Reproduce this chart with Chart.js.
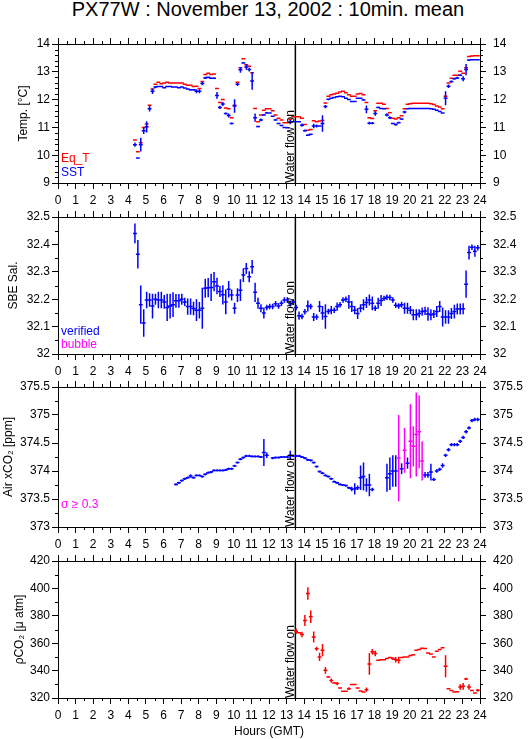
<!DOCTYPE html>
<html><head><meta charset="utf-8">
<script src="https://cdn.jsdelivr.net/npm/chart.js@4"></script>
<style>
html,body{margin:0;padding:0;background:#fff;}
body{width:529px;height:739px;position:relative;overflow:hidden;font-family:"Liberation Sans",Arial,sans-serif;}
#title{position:absolute;left:0;width:536px;top:-1px;text-align:center;font-size:20px;line-height:20px;color:#000;white-space:nowrap;}
canvas{position:absolute;left:0;}
</style></head><body>
<div id="title">PX77W : November 13, 2002 : 10min. mean</div>
<canvas id="c1" width="529" height="199" style="top:24px"></canvas>
<canvas id="c2" width="529" height="197" style="top:197px"></canvas>
<canvas id="c3" width="529" height="200" style="top:367px"></canvas>
<canvas id="c4" width="529" height="198" style="top:541px"></canvas>
<script>
// ---------------- data ----------------
const hourTicks = [0,1,2,3,4,5,6,7,8,9,10,11,12,13,14,15,16,17,18,19,20,21,22,23,24];
const tempTicks = [9,10,11,12,13,14];
const salTicks  = [32,32.1,32.2,32.3,32.4,32.5];
const xco2Ticks = [373,373.5,374,374.5,375,375.5];
const pco2Ticks = [320,340,360,380,400,420];

const binMinutes = 10;          // 10-minute means
const waterFlowOnHour = 13.5;

// Temperature / salinity: first bin 04:20 GMT
const tempStartHour = 4 + 20/60;
const eqT = [
  10.55,10.12,10.45,11.00,
  11.12,11.80,12.38,12.55,12.62,12.57,
  12.60,12.62,12.60,12.60,12.60,12.60,
  12.60,12.55,12.52,12.52,12.47,12.48,
  12.40,12.65,12.90,12.95,12.90,12.92,
  12.40,11.90,12.00,11.70,11.67,11.35,
  11.80,12.62,13.15,13.47,13.25,13.20,
  12.97,11.68,11.20,11.45,11.62,11.67,
  11.67,11.60,11.45,11.33,11.27,11.17,
  11.17,11.28,11.38,11.38,11.38,11.33,
  11.10,10.90,10.92,11.24,11.20,11.23,
  11.25,11.88,12.12,12.17,12.20,12.23,
  12.27,12.30,12.25,12.17,12.12,12.12,
  12.20,12.22,12.17,11.90,11.35,11.32,
  11.60,11.87,11.87,11.83,11.68,11.53,
  11.33,11.30,11.35,11.42,11.67,11.83,
  11.85,11.87,11.87,11.87,11.87,11.87,
  11.87,11.85,11.82,11.77,11.73,11.67,
  12.12,12.60,12.77,12.88,12.88,13.02,
  12.95,13.15,13.55,13.57,13.58,13.58
];
const sst = [
  10.38,9.90,10.38,10.88,
  11.02,11.67,12.30,12.45,12.47,12.47,
  12.43,12.47,12.47,12.45,12.45,12.43,
  12.45,12.42,12.38,12.35,12.35,12.30,
  12.30,12.58,12.78,12.80,12.77,12.77,
  12.15,11.72,11.84,11.50,11.43,11.14,
  11.77,12.55,13.07,13.32,13.17,13.08,
  12.67,11.35,11.03,11.27,11.45,11.52,
  11.52,11.40,11.27,11.14,11.07,11.00,
  10.99,11.19,11.20,11.20,11.20,11.08,
  10.88,10.72,10.75,11.05,11.05,11.05,
  11.14,11.75,12.01,12.05,12.08,12.10,
  12.12,12.10,12.05,12.00,11.93,11.93,
  12.05,12.05,11.99,11.65,11.15,11.15,
  11.50,11.72,11.68,11.67,11.45,11.35,
  11.14,11.10,11.17,11.30,11.55,11.67,
  11.68,11.68,11.68,11.68,11.68,11.68,
  11.68,11.67,11.65,11.62,11.57,11.52,
  12.05,12.48,12.65,12.75,12.78,12.88,
  12.75,13.08,13.42,13.43,13.43,13.43
];
const sstSigma = [
  0.08,0.03,0.25,0.12,
  0.20,0.10,0.10,0.04,0.02,0.02,
  0.02,0.02,0.02,0.02,0.02,0.02,
  0.02,0.02,0.02,0.03,0.03,0.07,
  0.07,0.06,0.04,0.03,0.03,0.03,
  0.12,0.06,0.07,0.04,0.07,0.04,
  0.24,0.06,0.10,0.03,0.10,0.07,
  0.32,0.15,0.03,0.05,0.03,0.03,
  0.02,0.02,0.03,0.03,0.02,0.02,
  0.02,0.08,0.02,0.02,0.02,0.06,
  0.04,0.03,0.03,0.08,0.05,0.03,
  0.30,0.06,0.03,0.02,0.02,0.02,
  0.02,0.02,0.02,0.02,0.02,0.02,
  0.02,0.02,0.03,0.14,0.05,0.04,
  0.08,0.03,0.03,0.02,0.06,0.05,
  0.03,0.04,0.03,0.03,0.05,0.03,
  0.02,0.02,0.02,0.02,0.02,0.02,
  0.02,0.02,0.02,0.02,0.02,0.02,
  0.25,0.06,0.04,0.04,0.04,0.03,
  0.09,0.20,0.03,0.02,0.02,0.02
];

const salStartHour = 4 + 20/60;
const salinity = [
  32.440,32.364,32.180,32.113,
  32.197,32.197,32.175,32.200,32.197,32.197,
  32.190,32.170,32.175,32.180,32.194,32.194,
  32.200,32.190,32.173,32.173,32.166,32.160,
  32.160,32.167,32.240,32.242,32.243,32.264,
  32.248,32.228,32.216,32.190,32.236,32.215,
  32.167,32.215,32.233,32.288,32.312,32.282,
  32.318,32.225,32.185,32.167,32.150,32.170,
  32.173,32.173,32.183,32.175,32.185,32.197,
  32.197,32.183,32.190,32.170,32.140,32.137,
  32.154,32.175,32.173,32.135,32.135,32.173,
  32.150,32.137,32.155,32.160,32.160,32.173,
  32.180,32.197,32.200,32.190,32.173,32.160,
  32.148,32.167,32.180,32.188,32.197,32.185,
  32.167,32.185,32.195,32.203,32.207,32.206,
  32.197,32.178,32.175,32.180,32.167,32.167,
  32.160,32.143,32.143,32.148,32.155,32.157,
  32.146,32.143,32.146,32.155,32.173,32.135,
  32.135,32.135,32.148,32.155,32.164,32.164,
  32.165,32.255,32.370,32.390,32.375,32.388
];
const salSigma = [
  0.036,0.052,0.070,0.050,
  0.030,0.025,0.045,0.020,0.030,0.030,
  0.025,0.050,0.045,0.045,0.025,0.025,
  0.020,0.015,0.030,0.030,0.025,0.040,
  0.030,0.075,0.035,0.035,0.050,0.035,
  0.030,0.020,0.035,0.045,0.030,0.020,
  0.020,0.025,0.040,0.025,0.020,0.020,
  0.025,0.035,0.020,0.015,0.020,0.010,
  0.010,0.010,0.010,0.010,0.010,0.010,
  0.010,0.010,0.010,0.010,0.015,0.010,
  0.010,0.020,0.010,0.015,0.010,0.020,
  0.025,0.045,0.010,0.015,0.010,0.015,
  0.010,0.010,0.010,0.025,0.020,0.015,
  0.020,0.015,0.020,0.020,0.020,0.025,
  0.010,0.020,0.020,0.010,0.010,0.010,
  0.010,0.010,0.010,0.010,0.020,0.020,
  0.015,0.020,0.020,0.015,0.015,0.015,
  0.025,0.020,0.015,0.020,0.020,0.035,
  0.025,0.025,0.020,0.025,0.020,0.020,
  0.020,0.050,0.025,0.010,0.020,0.010
];

// Air xCO2: first bin 06:40 GMT
const xco2StartHour = 6 + 40/60;
const xco2 = [
  373.76,373.79,
  373.83,373.86,373.88,373.91,373.88,373.92,
  373.92,373.90,373.94,373.97,373.98,374.01,
  374.01,374.01,374.01,374.02,374.04,374.04,
  374.09,374.15,374.21,374.24,374.27,374.27,
  374.26,374.26,374.26,374.25,374.33,374.28,
  null,374.23,374.24,374.24,374.25,374.25,
  374.25,374.28,374.27,374.27,374.27,374.25,
  374.23,374.20,374.19,374.15,374.08,373.99,
  373.96,373.92,373.90,373.86,373.81,373.79,
  373.76,373.75,373.74,373.70,373.68,373.68,
  373.70,373.88,373.90,373.75,373.75,373.67,
  null,null,null,null,373.88,373.95,
  374.00,374.00,374.23,374.04,374.37,374.14,
  374.53,374.44,374.65,374.70,374.18,373.93,
  373.93,373.98,373.85,374.00,374.03,374.10,
  374.28,374.38,374.47,374.47,374.47,374.53,
  374.60,374.70,374.77,374.90,374.92,374.92
];
const xco2Sigma = [
  0.02,0.02,
  0.02,0.02,0.02,0.03,0.02,0.02,
  0.02,0.02,0.02,0.02,0.02,0.02,
  0.02,0.02,0.02,0.02,0.02,0.02,
  0.02,0.02,0.02,0.02,0.02,0.02,
  0.02,0.02,0.02,0.02,0.24,0.05,
  0,0.02,0.02,0.02,0.02,0.02,
  0.02,0.08,0.02,0.02,0.02,0.02,
  0.02,0.02,0.02,0.02,0.02,0.02,
  0.02,0.02,0.02,0.02,0.02,0.02,
  0.02,0.02,0.02,0.02,0.04,0.10,
  0.04,0.22,0.25,0.12,0.20,0.03,
  0,0,0,0,0.25,0.29,
  0.28,0.28,0.77,0.10,0.40,0.10,
  0.66,0.36,0.75,0.65,0.35,0.05,
  0.05,0.15,0.03,0.03,0.03,0.04,
  0.03,0.03,0.03,0.03,0.03,0.03,
  0.03,0.03,0.03,0.03,0.03,0.03
];
const sigmaFlag = 0.3;

// Seawater pCO2: first bin 13:30 GMT
const pco2StartHour = 13.5;
const pco2 = [
  368.8,367.6,366.3,
  376.6,396.3,379.3,364.6,355.9,350.0,
  354.9,340.2,335.4,332.7,331.0,330.5,
  327.3,324.9,324.9,326.8,329.8,329.8,
  327.3,325.1,324.4,326.1,344.9,353.7,
  352.4,347.6,348.0,348.0,348.8,349.5,
  348.8,348.0,347.6,349.5,350.0,350.0,
  351.0,351.5,354.9,355.4,356.3,356.1,
  352.9,352.2,350.0,354.1,355.4,356.6,
  343.2,326.8,325.4,324.4,324.6,328.0,
  328.5,333.9,328.0,325.4,323.7,325.6
];
const pco2Sigma = [
  2,0.6,2,
  4,4.5,4.5,4,1.5,3,
  4.5,2.5,0.6,1.5,0.6,1.2,
  0.5,0.4,0.4,1,0.5,0.5,
  0.5,0.4,0.4,1.5,8,2,
  2,0.5,0.5,0.5,0.5,0.5,
  1,2,2.5,0.5,0.5,0.5,
  0.5,0.5,0.5,0.5,0.5,0.5,
  0.5,0.5,0.5,0.5,0.5,0.5,
  8,0.5,0.5,0.5,0.5,2,
  2.5,0.8,2,0.5,0.5,1
];

// ---------------- styling ----------------
const BLUE = '#0000ff', RED = '#ff0000', MAGENTA = '#ff00ff';
const FONT = '"Liberation Sans", Arial, sans-serif';
const halfBinHours = 0.11;
Chart.defaults.font.family = FONT;
Chart.defaults.color = '#000';

function crossPath(startHour, values, sigma, keep) {
  const pts = [];
  values.forEach((v, i) => {
    if (v === null || (keep && !keep(i))) return;
    const t = startHour + (i + 0.25) * binMinutes / 60;
    const s = sigma ? (sigma[i] || 0) : 0;
    pts.push({x: t - halfBinHours, y: v}, {x: t + halfBinHours, y: v}, {x: t, y: null});
    if (s > 0) pts.push({x: t, y: v - s}, {x: t, y: v + s}, {x: t, y: null});
  });
  return pts;
}
function markSet(data, color, order, width) {
  return {data, borderColor: color, backgroundColor: color, borderWidth: width || 1.5,
    pointRadius: 0, pointHoverRadius: 0, spanGaps: false, tension: 0, borderCapStyle: 'butt',
    xAxisID: 'x', yAxisID: 'y', order};
}
function flowLine(ticks) {
  return {data: [{x: waterFlowOnHour, y: ticks[0]}, {x: waterFlowOnHour, y: ticks[ticks.length - 1]}],
    borderColor: '#000', borderWidth: 1.5, pointRadius: 0, xAxisID: 'x', yAxisID: 'y', order: 5};
}
function minorValues(ticks, n) {
  const out = [];
  for (let i = 0; i < ticks.length - 1; i++)
    for (let j = 1; j < n; j++) out.push(ticks[i] + (ticks[i + 1] - ticks[i]) * j / n);
  return out;
}
const minorHours = minorValues(hourTicks, 2);

const decorPlugin = {
  id: 'panelDecor',
  afterDraw(chart, args, opts) {
    const {ctx, chartArea: a} = chart;
    const xs = chart.scales.x, ys = chart.scales.y;
    ctx.save();
    ctx.strokeStyle = '#000'; ctx.lineWidth = 1;
    ctx.beginPath();
    for (const v of minorHours) {
      const px = Math.round(xs.getPixelForValue(v)) + 0.5;
      ctx.moveTo(px, a.top); ctx.lineTo(px, a.top - 3);
      ctx.moveTo(px, a.bottom); ctx.lineTo(px, a.bottom + 3);
    }
    for (const v of opts.minorY) {
      const py = Math.round(ys.getPixelForValue(v)) + 0.5;
      ctx.moveTo(a.left, py); ctx.lineTo(a.left - 3, py);
      ctx.moveTo(a.right, py); ctx.lineTo(a.right + 3, py);
    }
    ctx.stroke();
    ctx.font = '12px ' + FONT;
    ctx.textBaseline = 'middle'; ctx.textAlign = 'left';
    for (const l of opts.labels) {
      ctx.fillStyle = l.color;
      ctx.fillText(l.text, a.left + 3, a.bottom - l.up);
    }
    ctx.fillStyle = '#000';
    ctx.translate(xs.getPixelForValue(waterFlowOnHour) - 1, a.bottom);
    ctx.rotate(-Math.PI / 2);
    ctx.textBaseline = 'alphabetic';
    ctx.fillText('Water flow on', 0, 0);
    ctx.restore();
  }
};

function axisCommon() {
  return {
    grid: {drawOnChartArea: false, drawTicks: true, tickLength: 6, color: '#000', tickColor: '#000', lineWidth: 1},
    border: {display: true, color: '#000', width: 1}
  };
}
function makePanel(id, cfg) {
  const setTicks = arr => s => { s.ticks = arr.map(v => ({value: v})); };
  const fmt = v => String(v);
  const tickFont = {family: FONT, size: 12};
  return new Chart(document.getElementById(id), {
    type: 'line',
    data: {datasets: cfg.datasets},
    options: {
      responsive: false, animation: false, devicePixelRatio: 1, events: [],
      layout: {padding: 0},
      plugins: {legend: {display: false}, tooltip: {enabled: false},
        panelDecor: {minorY: cfg.minorY, labels: cfg.labels}},
      scales: {
        x: Object.assign(axisCommon(), {type: 'linear', position: 'bottom', min: 0, max: 24,
          afterBuildTicks: setTicks(hourTicks), afterFit: s => { s.height = cfg.bottomH; },
          ticks: {font: tickFont, color: '#000', padding: 4, maxRotation: 0, autoSkip: false, callback: fmt},
          title: cfg.xTitle ? {display: true, text: cfg.xTitle, font: {family: FONT, size: 12}, color: '#000', padding: {top: 0, bottom: 0}} : {display: false}}),
        xTop: Object.assign(axisCommon(), {type: 'linear', position: 'top', min: 0, max: 24,
          afterBuildTicks: setTicks(hourTicks), afterFit: s => { s.height = 20; },
          ticks: {display: false}}),
        y: Object.assign(axisCommon(), {type: 'linear', position: 'left', min: cfg.yTicks[0], max: cfg.yTicks[cfg.yTicks.length - 1],
          afterBuildTicks: setTicks(cfg.yTicks), afterFit: s => { s.width = 58; },
          ticks: {font: tickFont, color: '#000', padding: 2, autoSkip: false, callback: fmt},
          title: {display: true, text: cfg.yTitle, font: {family: FONT, size: 12}, color: '#000', padding: {top: cfg.titlePad, bottom: 0}}}),
        yRight: Object.assign(axisCommon(), {type: 'linear', position: 'right', min: cfg.yTicks[0], max: cfg.yTicks[cfg.yTicks.length - 1],
          afterBuildTicks: setTicks(cfg.yTicks), afterFit: s => { s.width = 49; },
          ticks: {font: tickFont, color: '#000', padding: 7, autoSkip: false, callback: fmt}})
      }
    },
    plugins: [decorPlugin]
  });
}

makePanel('c1', {
  yTicks: tempTicks, minorY: minorValues(tempTicks, 5), yTitle: 'Temp. [°C]', titlePad: 16.5, bottomH: 40,
  labels: [{text: 'Eq_T', color: RED, up: 24.5}, {text: 'SST', color: BLUE, up: 10.5}],
  datasets: [
    markSet(crossPath(tempStartHour, sst, sstSigma), BLUE, 0),
    markSet(crossPath(tempStartHour, eqT, null), RED, 1),
    flowLine(tempTicks)
  ]
});
makePanel('c2', {
  yTicks: salTicks, minorY: minorValues(salTicks, 2), yTitle: 'SBE Sal.', titlePad: 6, bottomH: 40,
  labels: [{text: 'verified', color: BLUE, up: 22}, {text: 'bubble', color: MAGENTA, up: 9}],
  datasets: [
    markSet(crossPath(salStartHour, salinity, salSigma), BLUE, 0),
    flowLine(salTicks)
  ]
});
makePanel('c3', {
  yTicks: xco2Ticks, minorY: minorValues(xco2Ticks, 2), yTitle: 'Air xCO₂ [ppm]', titlePad: 1, bottomH: 40,
  labels: [{text: 'σ ≥ 0.3', color: MAGENTA, up: 22.5}],
  datasets: [
    markSet(crossPath(xco2StartHour, xco2, xco2Sigma, i => xco2Sigma[i] < sigmaFlag), BLUE, 0),
    markSet(crossPath(xco2StartHour, xco2, xco2Sigma, i => xco2Sigma[i] >= sigmaFlag), MAGENTA, 1),
    flowLine(xco2Ticks)
  ]
});
makePanel('c4', {
  yTicks: pco2Ticks, minorY: minorValues(pco2Ticks, 2), yTitle: 'ρCO₂ [μ atm]', titlePad: 12.5, bottomH: 41,
  xTitle: 'Hours (GMT)',
  labels: [],
  datasets: [
    markSet(crossPath(pco2StartHour, pco2, pco2Sigma), RED, 0),
    flowLine(pco2Ticks)
  ]
});
</script>
</body></html>
